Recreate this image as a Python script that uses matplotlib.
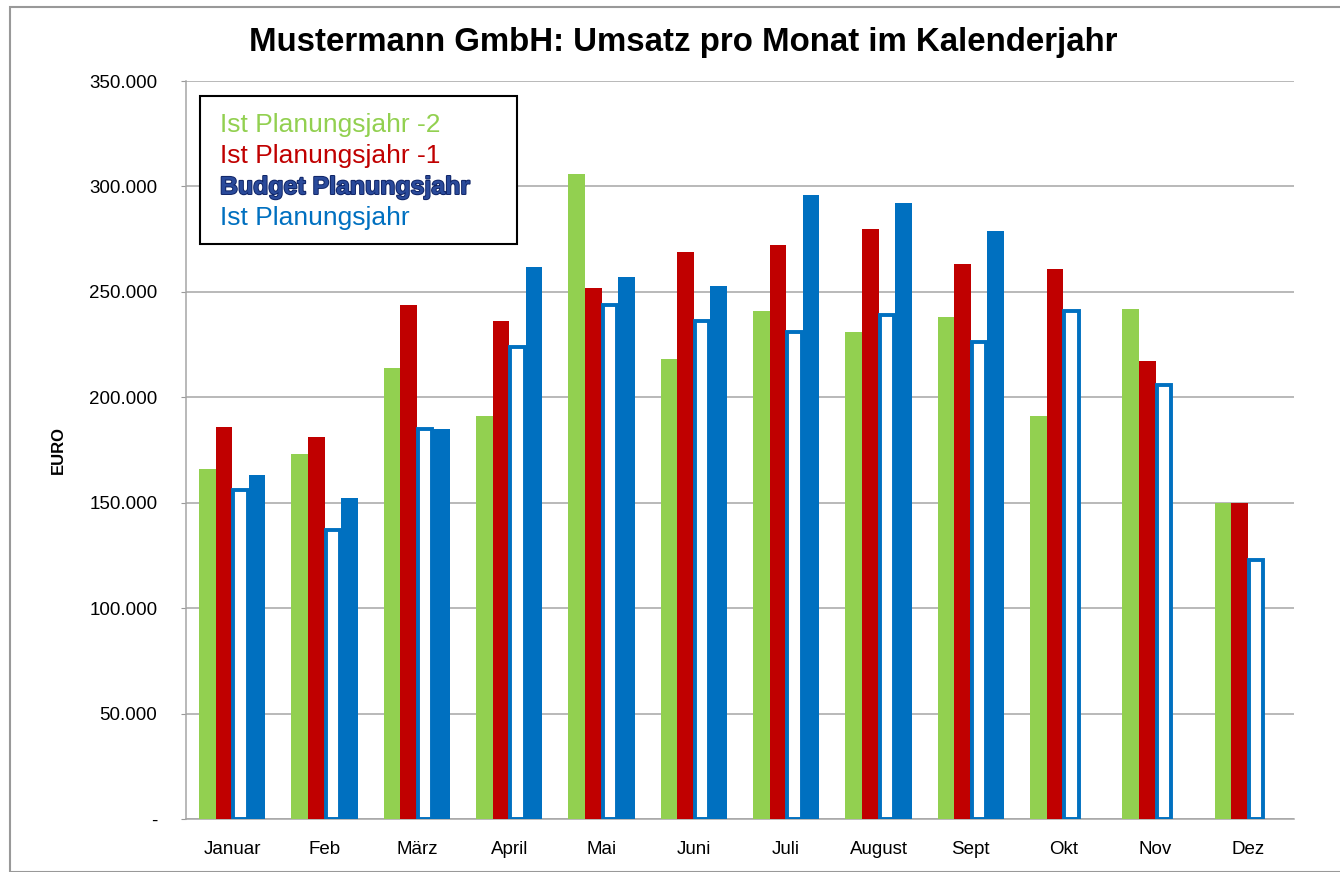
"""Umsatz pro Monat - Mustermann GmbH."""

import matplotlib
matplotlib.use("Agg")
import matplotlib.pyplot as plt
import matplotlib.patheffects as pe
from matplotlib.patches import Rectangle
from matplotlib.ticker import FuncFormatter
import numpy as np

plt.rcParams["font.family"] = ["Liberation Sans", "DejaVu Sans"]

months = ["Januar", "Feb", "März", "April", "Mai", "Juni", "Juli",
          "August", "Sept", "Okt", "Nov", "Dez"]
ist_minus2 = [166, 173, 214, 191, 306, 218, 241, 231, 238, 191, 242, 150]
ist_minus1 = [186, 181, 244, 236, 252, 269, 272, 280, 263, 261, 217, 150]
budget = [156, 137, 185, 224, 244, 236, 231, 239, 226, 241, 206, 123]
ist = [163, 152, 185, 262, 257, 253, 296, 292, 279, None, None, None]
series_names = ["Ist Planungsjahr -2", "Ist Planungsjahr -1",
                "Budget Planungsjahr", "Ist Planungsjahr"]

GREEN = "#92D050"
RED = "#C00000"
BLUE = "#0070C0"

W, H = 1340, 872
fig = plt.figure(figsize=(W / 100, H / 100), dpi=100)
fig.patches.append(Rectangle((10 / W, 0), 1, 1 - 7 / H, transform=fig.transFigure,
                             fill=False, edgecolor="#999999", linewidth=1.5))

AX_L, AX_R, AX_T, AX_B = 186, 1294, 81, 819
ax = fig.add_axes([AX_L / W, (H - AX_B) / H, (AX_R - AX_L) / W, (AX_B - AX_T) / H])

x = np.arange(len(months))
bw = 0.18
k = 1000
ax.bar(x - 1.5 * bw, np.array(ist_minus2) * k, bw, color=GREEN, zorder=3)
ax.bar(x - 0.5 * bw, np.array(ist_minus1) * k, bw, color=RED, zorder=3)
ax.bar(x + 0.5 * bw, np.array(budget) * k, bw * 0.85, color="white",
       edgecolor=BLUE, linewidth=2.8, zorder=3)
ist_x = [xi for xi, v in zip(x, ist) if v is not None]
ist_v = [v * k for v in ist if v is not None]
ax.bar(np.array(ist_x) + 1.5 * bw, ist_v, bw, color=BLUE, zorder=3)

ax.set_xlim(-0.5, len(months) - 0.5)
ax.set_ylim(0, 350000)
ax.set_yticks(np.arange(0, 350001, 50000))
ax.yaxis.set_major_formatter(FuncFormatter(
    lambda v, p: "-" if v == 0 else f"{int(v):,}".replace(",", ".")))
ax.set_xticks(x)
ax.set_xticklabels(months)
ax.tick_params(axis="x", length=0, pad=16, labelsize=13.5)
ax.tick_params(axis="y", length=3.6, color="#999999", pad=17, labelsize=13.5)
ax.grid(axis="y", color="#A6A6A6", linewidth=1.1, zorder=0)
ax.set_axisbelow(True)
for side in ["top", "right"]:
    ax.spines[side].set_visible(False)
for side in ["left", "bottom"]:
    ax.spines[side].set_color("#A6A6A6")
    ax.spines[side].set_linewidth(1.1)

ax.set_ylabel("EURO", fontsize=12, fontweight="bold")
ax.yaxis.set_label_coords((66 - AX_L) / (AX_R - AX_L), 0.5)

fig.text(683 / W, 1 - 42 / H, "Mustermann GmbH: Umsatz pro Monat im Kalenderjahr",
         ha="center", va="center", fontsize=23.8, fontweight="bold")


# legend: boxed text only, coloured like the series
def ax_px(px, py):
    return (px - AX_L) / (AX_R - AX_L), (AX_B - py) / (AX_B - AX_T)


bx0, by0 = ax_px(200, 244)
bx1, by1 = ax_px(517, 96)
ax.add_patch(Rectangle((bx0, by0), bx1 - bx0, by1 - by0, transform=ax.transAxes,
                       facecolor="white", edgecolor="black", linewidth=1.5, zorder=5))
legend_colors = [GREEN, RED, "#2A4A9A", BLUE]
for i, (name, col) in enumerate(zip(series_names, legend_colors)):
    tx, ty = ax_px(220, 125 + 31 * i)
    if i == 2:
        t = ax.text(tx, ty, name, transform=ax.transAxes, va="center", ha="left",
                    fontsize=17.9, fontweight="bold", color=col, zorder=6)
        t.set_path_effects([pe.withStroke(linewidth=1.4, foreground="#0F2466")])
    else:
        ax.text(tx, ty, name, transform=ax.transAxes, va="center", ha="left",
                fontsize=19, color=col, zorder=6)

fig.savefig("out.png", dpi=100)
